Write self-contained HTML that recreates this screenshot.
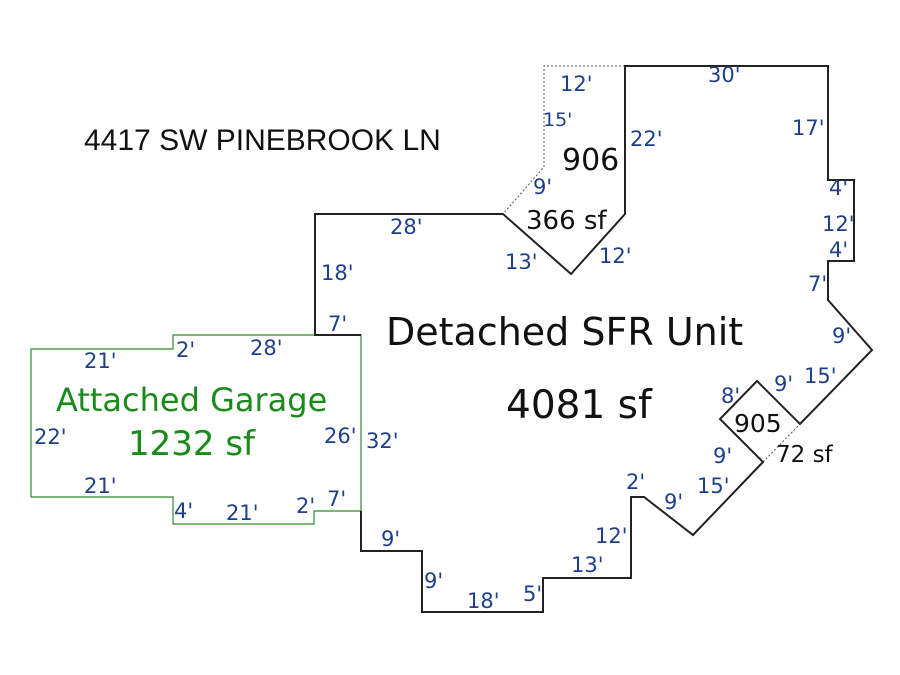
<!DOCTYPE html>
<html><head><meta charset="utf-8"><style>
html,body{margin:0;padding:0;background:#fff}
svg{display:block}
text{font-family:"DejaVu Sans","Liberation Sans",sans-serif}
.d{fill:#1f3f8a;font-size:21px}
</style></head><body>
<svg width="900" height="675" viewBox="0 0 900 675" xmlns="http://www.w3.org/2000/svg">
<polyline points="625,66 544,66 544,167 503,214" fill="none" stroke="#555" stroke-width="1" stroke-dasharray="2,2"/>
<line x1="763" y1="462" x2="800" y2="424" stroke="#555" stroke-width="1" stroke-dasharray="2,2"/>
<polygon points="31,349 173,349 173,335 361,335 361,511 314,511 314,524 173,524 173,497 31,497" fill="none" stroke="#2e8b2e" stroke-width="1.2"/>
<polyline points="361,335 315,335 315,214 503,214 571,274 625,214 625,66 828,66 828,180 854,180 854,261 828,261 828,300 872,350 800,424 757,381 720,419 763,462 693,535 644,497 631,497 631,578 543,578 543,612 422,612 422,551 361,551 361,511" fill="none" stroke="#222" stroke-width="2"/>
<text x="84" y="150" font-size="30" fill="#111" style="font-family:'Liberation Sans',sans-serif">4417 SW PINEBROOK LN</text>
<text x="386" y="345" font-size="38" fill="#111">Detached SFR Unit</text>
<text x="506" y="418" font-size="39" fill="#111">4081 sf</text>
<text x="56" y="411" font-size="32" fill="#1a8a1a">Attached Garage</text>
<text x="128" y="455" font-size="34" fill="#1a8a1a">1232 sf</text>
<text x="562" y="170" font-size="30" fill="#111">906</text>
<text x="526" y="229" font-size="26" fill="#111">366 sf</text>
<text x="734" y="432" font-size="25" fill="#111">905</text>
<text x="776" y="462" font-size="23" fill="#111">72 sf</text>
<g class="d">
<text x="560" y="91">12'</text>
<text x="708" y="82">30'</text>
<text x="543" y="126" font-size="19">15'</text>
<text x="630" y="146">22'</text>
<text x="792" y="135">17'</text>
<text x="533" y="194">9'</text>
<text x="829" y="195">4'</text>
<text x="822" y="231">12'</text>
<text x="829" y="257">4'</text>
<text x="390" y="234">28'</text>
<text x="599" y="263">12'</text>
<text x="505" y="269">13'</text>
<text x="321" y="280">18'</text>
<text x="808" y="291">7'</text>
<text x="328" y="331">7'</text>
<text x="832" y="343">9'</text>
<text x="84" y="368">21'</text>
<text x="176" y="357">2'</text>
<text x="250" y="355">28'</text>
<text x="804" y="383">15'</text>
<text x="721" y="403">8'</text>
<text x="774" y="391">9'</text>
<text x="34" y="444">22'</text>
<text x="324" y="443">26'</text>
<text x="366" y="448">32'</text>
<text x="713" y="463">9'</text>
<text x="84" y="493">21'</text>
<text x="626" y="489">2'</text>
<text x="697" y="493">15'</text>
<text x="664" y="509">9'</text>
<text x="174" y="518">4'</text>
<text x="226" y="520">21'</text>
<text x="296" y="513">2'</text>
<text x="327" y="506">7'</text>
<text x="595" y="543">12'</text>
<text x="381" y="546">9'</text>
<text x="571" y="572">13'</text>
<text x="424" y="588">9'</text>
<text x="467" y="608">18'</text>
<text x="523" y="601">5'</text>
</g>
</svg>
</body></html>
